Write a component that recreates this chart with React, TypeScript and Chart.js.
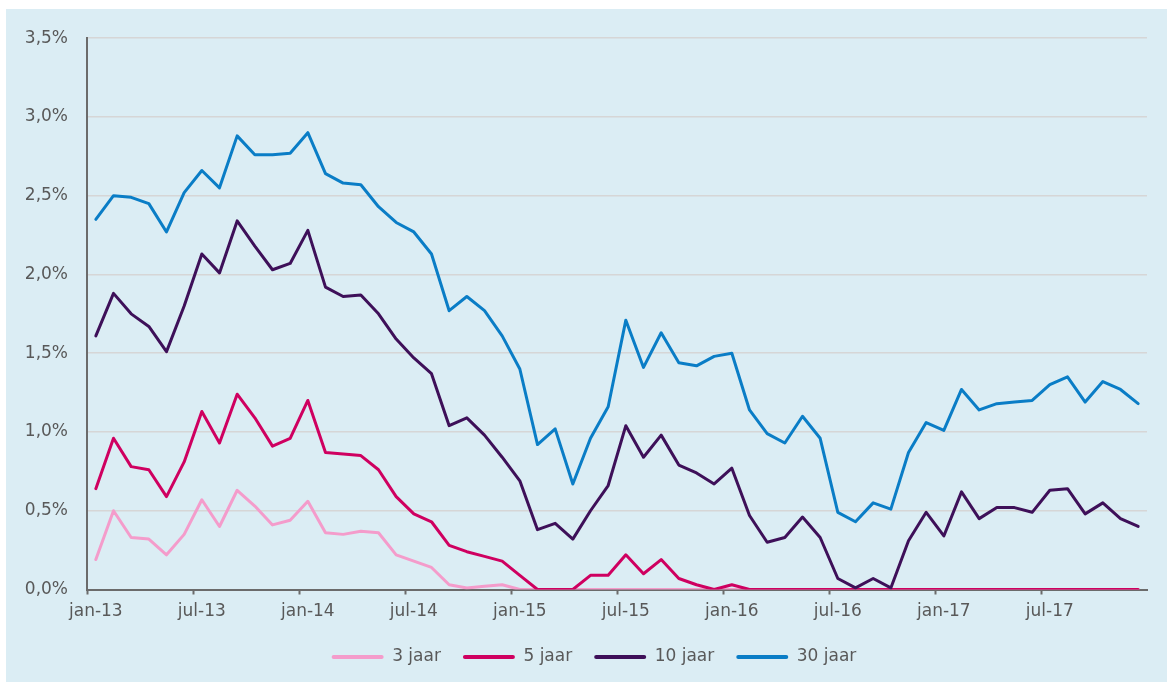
import React, { useEffect, useRef } from "react";
import { Chart, registerables } from "chart.js";

Chart.register(...registerables);

const months = ["jan", "feb", "mrt", "apr", "mei", "jun", "jul", "aug", "sep", "okt", "nov", "dec"];
const years = ["13", "14", "15", "16", "17"];
const categories: string[] = years.flatMap((y) => months.map((m) => `${m}-${y}`));

const yTicks = [0, 0.5, 1, 1.5, 2, 2.5, 3, 3.5];

const jaar3 = [
  0.19, 0.50, 0.33, 0.32, 0.22, 0.35, 0.57, 0.40, 0.63, 0.53, 0.41, 0.44,
  0.56, 0.36, 0.35, 0.37, 0.36, 0.22, 0.18, 0.14, 0.03, 0.01, 0.02, 0.03,
  0.0, 0.0, 0.0, 0.0, 0.0, 0.0, 0.0, 0.0, 0.0, 0.0, 0.0, 0.0,
  0.0, 0.0, 0.0, 0.0, 0.0, 0.0, 0.0, 0.0, 0.0, 0.0, 0.0, 0.0,
  0.0, 0.0, 0.0, 0.0, 0.0, 0.0, 0.0, 0.0, 0.0, 0.0, 0.0, 0.0,
];

const jaar5 = [
  0.64, 0.96, 0.78, 0.76, 0.59, 0.81, 1.13, 0.93, 1.24, 1.09, 0.91, 0.96,
  1.20, 0.87, 0.86, 0.85, 0.76, 0.59, 0.48, 0.43, 0.28, 0.24, 0.21, 0.18,
  0.09, 0.0, 0.0, 0.0, 0.09, 0.09, 0.22, 0.10, 0.19, 0.07, 0.03, 0.0,
  0.03, 0.0, 0.0, 0.0, 0.0, 0.0, 0.0, 0.0, 0.0, 0.0, 0.0, 0.0,
  0.0, 0.0, 0.0, 0.0, 0.0, 0.0, 0.0, 0.0, 0.0, 0.0, 0.0, 0.0,
];

const jaar10 = [
  1.61, 1.88, 1.75, 1.67, 1.51, 1.80, 2.13, 2.01, 2.34, 2.18, 2.03, 2.07,
  2.28, 1.92, 1.86, 1.87, 1.75, 1.59, 1.47, 1.37, 1.04, 1.09, 0.98, 0.84,
  0.69, 0.38, 0.42, 0.32, 0.50, 0.66, 1.04, 0.84, 0.98, 0.79, 0.74, 0.67,
  0.77, 0.47, 0.30, 0.33, 0.46, 0.33, 0.07, 0.01, 0.07, 0.01, 0.31, 0.49,
  0.34, 0.62, 0.45, 0.52, 0.52, 0.49, 0.63, 0.64, 0.48, 0.55, 0.45, 0.40,
];

const jaar30 = [
  2.35, 2.50, 2.49, 2.45, 2.27, 2.52, 2.66, 2.55, 2.88, 2.76, 2.76, 2.77,
  2.90, 2.64, 2.58, 2.57, 2.43, 2.33, 2.27, 2.13, 1.77, 1.86, 1.77, 1.61,
  1.40, 0.92, 1.02, 0.67, 0.96, 1.16, 1.71, 1.41, 1.63, 1.44, 1.42, 1.48,
  1.50, 1.14, 0.99, 0.93, 1.10, 0.96, 0.49, 0.43, 0.55, 0.51, 0.87, 1.06,
  1.01, 1.27, 1.14, 1.18, 1.19, 1.20, 1.30, 1.35, 1.19, 1.32, 1.27, 1.18,
];

const seriesNames = ["3 jaar", "5 jaar", "10 jaar", "30 jaar"];
const seriesColors = ["#f49ccb", "#cf0060", "#3e1059", "#0a7dc6"];

const legendShift = {
  id: "legendShift",
  afterLayout(chart: any) {
    const lg = chart.legend;
    if (lg) {
      lg.left += 17.5;
      lg.right += 17.5;
    }
  },
};

export default function App() {
  const canvasRef = useRef<HTMLCanvasElement | null>(null);

  useEffect(() => {
    if (!canvasRef.current) return;
    const allSeries = [jaar3, jaar5, jaar10, jaar30];
    const font = { family: "'DejaVu Sans', Verdana, sans-serif", size: 17 };
    const textColor = "#595959";
    const axisColor = "#6b6b6b";

    const chart = new Chart(canvasRef.current, {
      type: "line",
      data: {
        labels: categories,
        datasets: allSeries.map((vals, i) => ({
          label: seriesNames[i],
          data: vals,
          borderColor: seriesColors[i],
          backgroundColor: seriesColors[i],
          borderWidth: 3,
          pointRadius: 0,
          pointHoverRadius: 0,
          tension: 0,
          borderJoinStyle: "round" as const,
          borderCapStyle: "round" as const,
          order: 4 - i,
        })),
      },
      plugins: [legendShift],
      options: {
        responsive: false,
        animation: false,
        layout: { padding: { left: 0, right: 20, top: 28, bottom: 6.5 } },
        plugins: {
          tooltip: { enabled: false },
          legend: {
            position: "bottom",
            labels: {
              font,
              color: textColor,
              boxWidth: 52,
              boxHeight: 4,
              padding: 22,
              sort: (a: any, b: any) => a.datasetIndex - b.datasetIndex,
              generateLabels: (c: any) => {
                const items = Chart.defaults.plugins.legend.labels.generateLabels(c);
                return items.map((it: any) => ({
                  ...it,
                  fillStyle: seriesColors[it.datasetIndex],
                  lineWidth: 0,
                  borderRadius: 2,
                }));
              },
            },
          },
        },
        scales: {
          x: {
            type: "category",
            offset: true,
            afterFit: (s: any) => {
              s.height = 37;
            },
            grid: {
              offset: true,
              drawOnChartArea: false,
              drawTicks: true,
              tickLength: 5,
              tickWidth: 2,
              tickColor: (ctx: any) => (ctx.index % 6 === 0 ? axisColor : "rgba(0,0,0,0)"),
            },
            border: { display: true, color: axisColor, width: 2 },
            ticks: {
              autoSkip: false,
              maxRotation: 0,
              minRotation: 0,
              padding: 7,
              font,
              color: textColor,
              callback: (_v: any, idx: number) => (idx % 6 === 0 ? categories[idx] : ""),
            },
          },
          y: {
            min: 0,
            max: 3.5,
            afterFit: (s: any) => {
              s.width = 81;
            },
            afterBuildTicks: (s: any) => {
              s.ticks = yTicks.map((v) => ({ value: v }));
            },
            grid: {
              color: "#d6d6d6",
              lineWidth: 1.5,
              drawTicks: false,
            },
            border: { display: true, color: axisColor, width: 2 },
            ticks: {
              padding: 19,
              font,
              color: textColor,
              callback: (v: any) => Number(v).toFixed(1).replace(".", ",") + "%",
            },
          },
        },
      },
    });
    return () => chart.destroy();
  }, []);

  return (
    <div style={{ position: "absolute", left: 0, top: 0, width: 1167, height: 683, background: "#ffffff" }}>
      <div style={{ position: "absolute", left: 6, top: 9, width: 1161, height: 673, background: "#dbedf4" }}>
        <canvas ref={canvasRef} width={1161} height={673} style={{ display: "block" }} />
      </div>
    </div>
  );
}
